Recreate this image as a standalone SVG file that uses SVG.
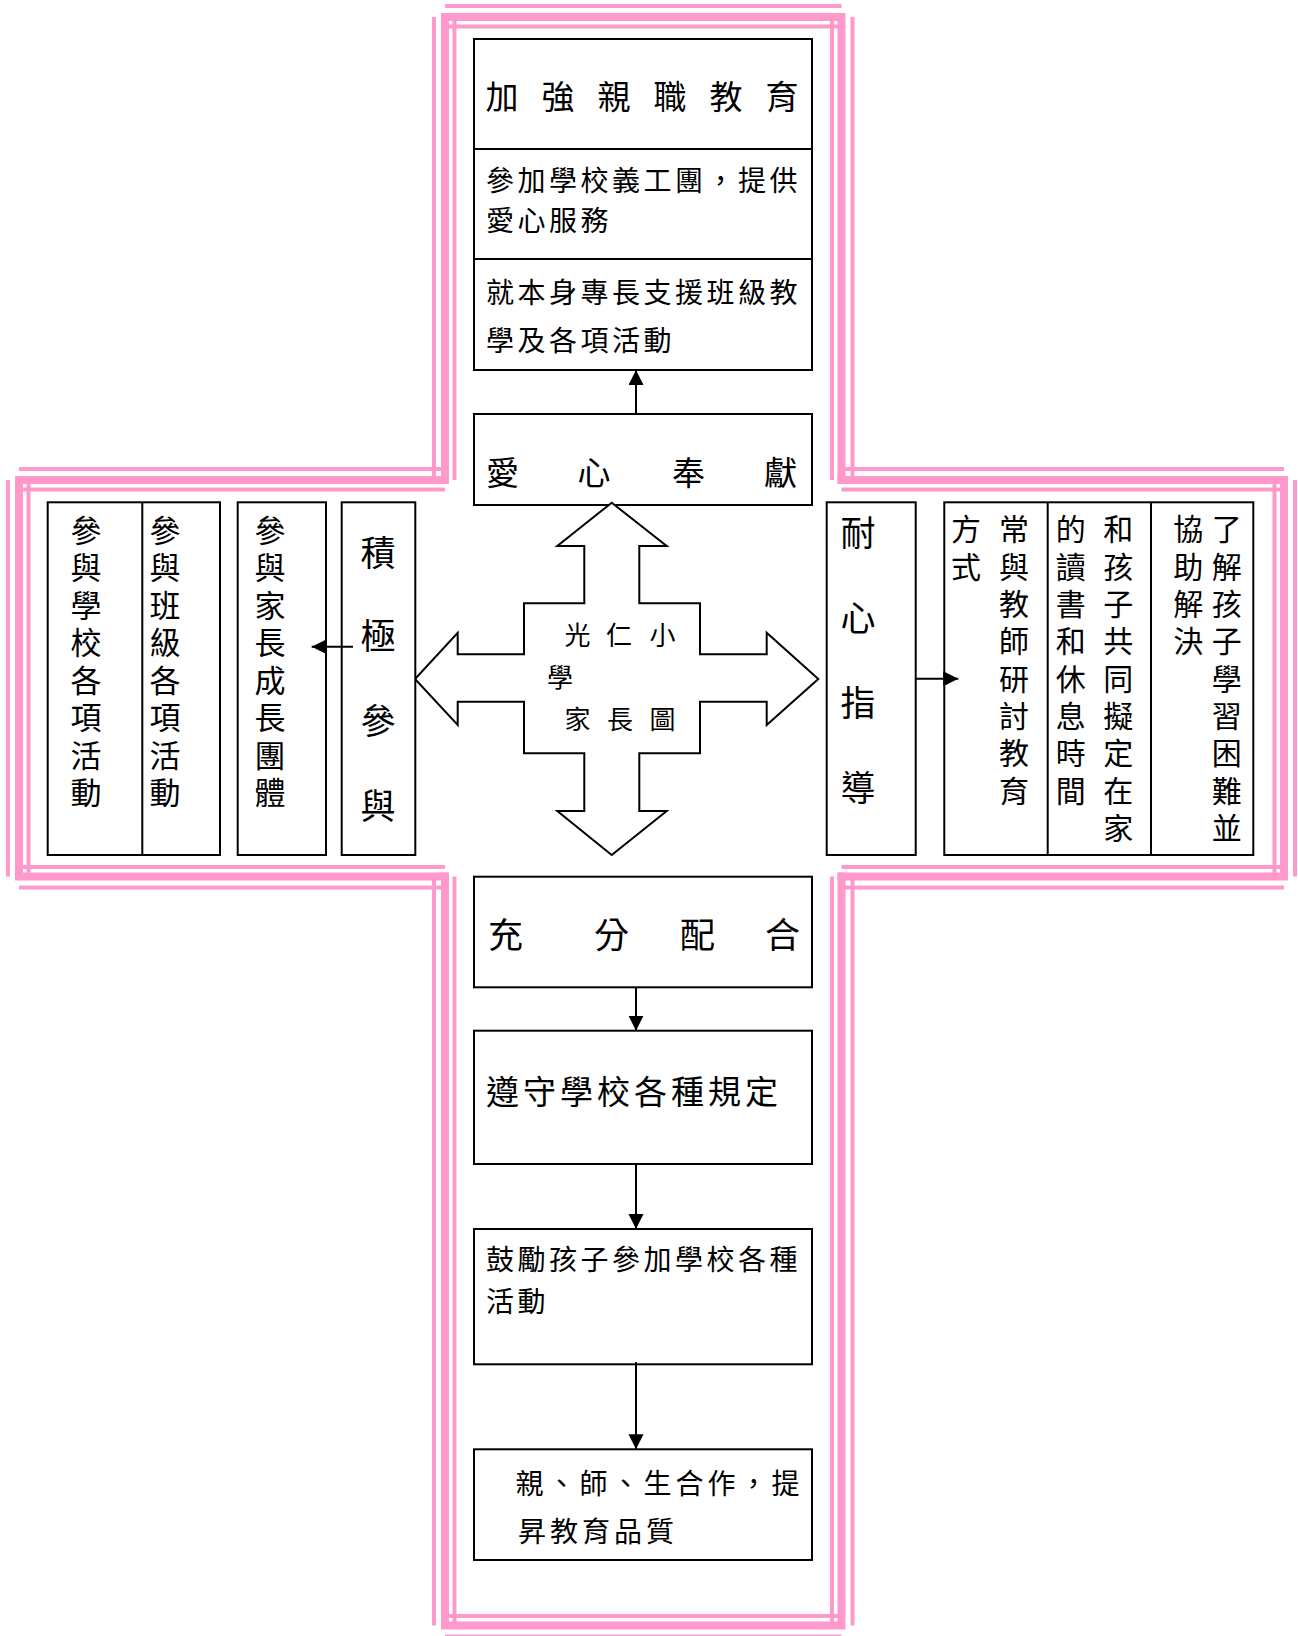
<svg xmlns="http://www.w3.org/2000/svg" width="1298" height="1636" viewBox="0 0 1298 1636">
<style>
.t{font-family:"Noto Sans CJK TC","Noto Sans CJK SC",sans-serif;fill:#000}
.box{fill:#fff;stroke:#000;stroke-width:2}
.pk{stroke:#FF99CC;fill:none}
.thick{stroke-width:8;stroke-linecap:square}
.thin{stroke-width:4;stroke-linecap:butt}
.con{stroke:#000;stroke-width:2;fill:none}
</style>
<defs>
<marker id="ah" markerUnits="userSpaceOnUse" markerWidth="16" markerHeight="16" refX="15" refY="7.5" orient="auto"><path d="M0,0 L15,7.5 L0,15 z" fill="#000"/></marker>
</defs>
<rect width="1298" height="1636" fill="#fff"/>

<g id="border" class="pk">
<!-- top arm -->
<path class="thick" d="M445,480 V17 H841.5 V480"/>
<path class="thin" d="M434,480 V17 M445,6 H841.5 M852.5,17 V480"/>
<path class="thin" d="M454.5,480 V17 M445,26.5 H841.5 M832,17 V480"/>
<!-- left arm -->
<path class="thick" d="M445,480 H19 V876.5 H445"/>
<path class="thin" d="M19,469 H445 M8,480 V876.5 M19,887.5 H445"/>
<path class="thin" d="M19,489.5 H445 M28.5,480 V876.5 M19,867 H445"/>
<!-- right arm -->
<path class="thick" d="M841.5,480 H1284 V876.5 H841.5"/>
<path class="thin" d="M841.5,469 H1284 M1295,480 V876.5 M841.5,887.5 H1284"/>
<path class="thin" d="M841.5,489.5 H1284 M1274.5,480 V876.5 M841.5,867 H1284"/>
<!-- bottom arm -->
<path class="thick" d="M445,876.5 V1625.5 H841.5 V876.5"/>
<path class="thin" d="M434,876.5 V1625.5 M445,1636.5 H841.5 M852.5,876.5 V1625.5"/>
<path class="thin" d="M454.5,876.5 V1625.5 M445,1616 H841.5 M832,876.5 V1625.5"/>
</g>

<g id="n-top1">
<rect class="box" x="474" y="39" width="338" height="110"/>
<text class="t" font-size="33" text-anchor="middle" x="502 558 614 670 726 782" y="109.2">加強親職教育</text>
</g>
<g id="n-top2">
<rect class="box" x="474" y="149" width="338" height="110"/>
<text class="t" font-size="28" letter-spacing="3.5" x="486" y="191">參加學校義工團，提供</text>
<text class="t" font-size="28" letter-spacing="3.5" x="486" y="231">愛心服務</text>
</g>
<g id="n-top3">
<rect class="box" x="474" y="259" width="338" height="111"/>
<text class="t" font-size="28" letter-spacing="3.5" x="486" y="303">就本身專長支援班級教</text>
<text class="t" font-size="28" letter-spacing="3.5" x="486" y="351">學及各項活動</text>
</g>
<g id="n-love">
<rect class="box" x="474" y="414" width="338" height="91"/>
<text class="t" font-size="33" text-anchor="middle" x="502.5 594 688.5 780.5" y="484.5">愛心奉獻</text>
</g>

<g id="n-center">
<polygon fill="#fff" stroke="#000" stroke-width="2" points="611.7,502.7 666.7,546 639.3,546 639.3,603.3 700,603.3 700,654.3 766.7,654.3 766.7,632.7 818.3,679 766.7,725 766.7,701.7 700,701.7 700,753.3 639.3,753.3 639.3,811 666.7,811 611.7,855 557.3,811 584.3,811 584.3,753.3 524,753.3 524,701.7 457.7,701.7 457.7,725 415,679 457.7,632.7 457.7,654.3 524,654.3 524,603.3 584.3,603.3 584.3,546 557.3,546"/>
<text class="t" font-size="26" text-anchor="middle" x="577.5 619 662.5" y="645">光仁小</text>
<text class="t" font-size="26" text-anchor="middle" x="560" y="687.4">學</text>
<text class="t" font-size="26" text-anchor="middle" x="577.5 620 662.5" y="729.4">家長圖</text>
</g>

<g id="n-left-active">
<rect class="box" x="341.7" y="502.3" width="73.6" height="352.7"/>
<text class="t" font-size="35" text-anchor="middle" x="378 378 378 378" y="566.3 649.3 734.3 819.3">積極參與</text>
</g>
<g id="n-left-growth">
<rect class="box" x="237.7" y="502.3" width="88.3" height="352.7"/>
<text class="t" font-size="31" text-anchor="middle" x="270 270 270 270 270 270 270 270" y="541.8 579.3 616.8 654.3 691.8 729.3 766.8 804.3">參與家長成長團體</text>
</g>
<g id="n-left-acts">
<rect class="box" x="47.7" y="502.3" width="172.3" height="352.7"/>
<line x1="142.3" y1="502.3" x2="142.3" y2="855" stroke="#000" stroke-width="2"/>
<text class="t" font-size="31" text-anchor="middle" x="86 86 86 86 86 86 86 86" y="541.8 579.3 616.8 654.3 691.8 729.3 766.8 804.3">參與學校各項活動</text>
<text class="t" font-size="31" text-anchor="middle" x="165 165 165 165 165 165 165 165" y="541.8 579.3 616.8 654.3 691.8 729.3 766.8 804.3">參與班級各項活動</text>
</g>

<g id="n-right-guide">
<rect class="box" x="826.7" y="502.3" width="89" height="352.7"/>
<text class="t" font-size="35" text-anchor="middle" x="858 858 858 858" y="546.3 631.3 716.3 801.3">耐心指導</text>
</g>
<g id="n-right-items">
<rect class="box" x="944.3" y="502.3" width="309" height="352.7"/>
<line x1="1047.7" y1="502.3" x2="1047.7" y2="855" stroke="#000" stroke-width="2"/>
<line x1="1151" y1="502.3" x2="1151" y2="855" stroke="#000" stroke-width="2"/>
<text class="t" font-size="30" text-anchor="middle" x="1226.7 1226.7 1226.7 1226.7 1226.7 1226.7 1226.7 1226.7 1226.7" y="540.4 577.7 615 652.3 689.6 726.9 764.2 801.5 838.8">了解孩子學習困難並</text>
<text class="t" font-size="30" text-anchor="middle" x="1188.3 1188.3 1188.3 1188.3" y="540.4 577.7 615 652.3">協助解決</text>
<text class="t" font-size="30" text-anchor="middle" x="1118.3 1118.3 1118.3 1118.3 1118.3 1118.3 1118.3 1118.3 1118.3" y="540.4 577.7 615 652.3 689.6 726.9 764.2 801.5 838.8">和孩子共同擬定在家</text>
<text class="t" font-size="30" text-anchor="middle" x="1070.7 1070.7 1070.7 1070.7 1070.7 1070.7 1070.7 1070.7" y="540.4 577.7 615 652.3 689.6 726.9 764.2 801.5">的讀書和休息時間</text>
<text class="t" font-size="30" text-anchor="middle" x="1014 1014 1014 1014 1014 1014 1014 1014" y="540.4 577.7 615 652.3 689.6 726.9 764.2 801.5">常與教師研討教育</text>
<text class="t" font-size="30" text-anchor="middle" x="966 966" y="540.4 577.7">方式</text>
</g>

<g id="n-coop">
<rect class="box" x="474" y="876.7" width="338" height="110.6"/>
<text class="t" font-size="35" text-anchor="middle" x="505.5 611.5 697.5 782.5" y="948.3">充分配合</text>
</g>
<g id="n-rules">
<rect class="box" x="474" y="1030.7" width="338" height="133.3"/>
<text class="t" font-size="33" letter-spacing="4" x="486" y="1103.5">遵守學校各種規定</text>
</g>
<g id="n-encourage">
<rect class="box" x="474" y="1229" width="338" height="135.3"/>
<text class="t" font-size="28" letter-spacing="3.5" x="486" y="1270">鼓勵孩子參加學校各種</text>
<text class="t" font-size="28" letter-spacing="3.5" x="486" y="1312">活動</text>
</g>
<g id="n-quality">
<rect class="box" x="474" y="1449.3" width="338" height="110.7"/>
<text class="t" font-size="28" letter-spacing="4" x="515.5" y="1494">親、師、生合作，提</text>
<text class="t" font-size="28" letter-spacing="4" x="518" y="1542">昇教育品質</text>
</g>

<g id="connectors" class="con">
<line x1="636" y1="414" x2="636" y2="370" marker-end="url(#ah)"/>
<line x1="353" y1="646.7" x2="311.7" y2="646.7" marker-end="url(#ah)"/>
<line x1="915.7" y1="678.7" x2="958.3" y2="678.7" marker-end="url(#ah)"/>
<line x1="636" y1="987.3" x2="636" y2="1030.7" marker-end="url(#ah)"/>
<line x1="636" y1="1164" x2="636" y2="1229" marker-end="url(#ah)"/>
<line x1="636" y1="1362" x2="636" y2="1449.3" marker-end="url(#ah)"/>
</g>
</svg>
